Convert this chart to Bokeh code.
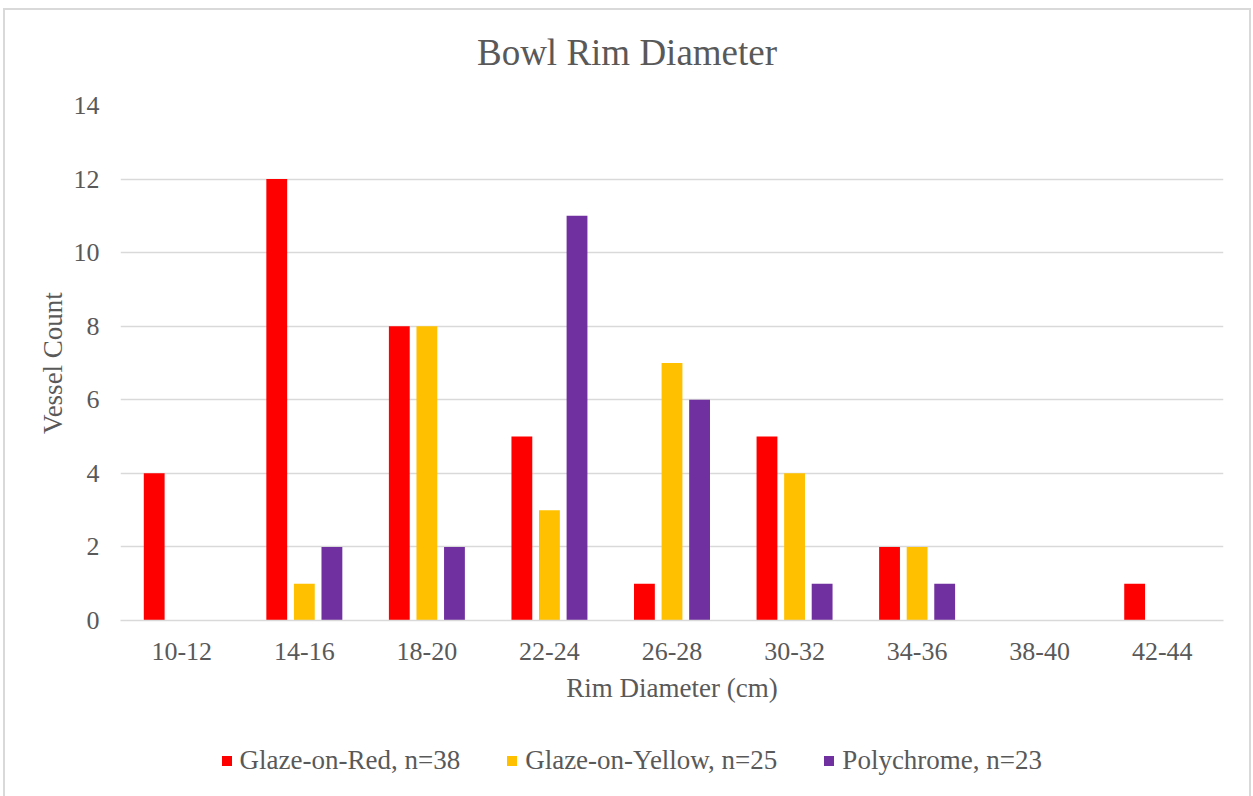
from bokeh.plotting import figure
from bokeh.layouts import column
from bokeh.models import (ColumnDataSource, FactorRange, FixedTicker, Label,
                          Legend, LegendItem, Range1d)
from bokeh.transform import dodge
from bokeh.embed import file_html
from bokeh.resources import INLINE

# Rim diameter classes (cm) and vessel counts per ware
categories = ["10-12", "14-16", "18-20", "22-24", "26-28", "30-32", "34-36", "38-40", "42-44"]
glaze_on_red = [4, 12, 8, 5, 1, 5, 2, 0, 1]
glaze_on_yellow = [0, 1, 8, 3, 7, 4, 2, 0, 0]
polychrome = [0, 2, 2, 11, 6, 1, 1, 0, 0]
series_labels = ["Glaze-on-Red, n=38", "Glaze-on-Yellow, n=25", "Polychrome, n=23"]
series_colors = ["#FF0000", "#FFC000", "#7030A0"]
y_ticks = [0, 2, 4, 6, 8, 10, 12, 14]
chart_title = "Bowl Rim Diameter"

FONT = "Liberation Serif"
TEXT_COLOR = "#595959"
GRID_COLOR = "#D9D9D9"
fields = ["red", "yellow", "poly"]

source = ColumnDataSource(dict(cat=categories, red=glaze_on_red,
                               yellow=glaze_on_yellow, poly=polychrome))


def strip(height, **kw):
    """A bare figure used as a band of text above or below the chart."""
    s = figure(width=1244, height=height, output_backend="svg", toolbar_location=None,
               x_axis_type=None, y_axis_type=None, min_border=0,
               x_range=Range1d(-3, -2), y_range=Range1d(-3, -2), **kw)
    s.outline_line_color = None
    s.background_fill_color = "white"
    s.border_fill_color = "white"
    return s


# title band
head = strip(70)
head.add_layout(Label(x=506.5, y=28.5, x_units="screen", y_units="screen",
                      text=chart_title, text_align="center",
                      text_baseline="middle", text_font=FONT,
                      text_font_size="37px", text_color=TEXT_COLOR))

# main bar chart
p = figure(width=1244, height=635, x_range=FactorRange(*categories, range_padding=0),
           y_range=(0, 14), output_backend="svg", toolbar_location=None,
           min_border_left=115, min_border_right=26, min_border_top=25,
           min_border_bottom=95)
p.outline_line_color = None
p.background_fill_color = "white"
p.border_fill_color = "white"

offsets = [-0.225, 0.0, 0.225]
for field, off, color in zip(fields, offsets, series_colors):
    p.vbar(x=dodge("cat", off, range=p.x_range), top=field, width=0.17,
           source=source, fill_color=color, line_color=None)

p.xgrid.grid_line_color = None
p.ygrid.grid_line_color = GRID_COLOR
p.ygrid.grid_line_width = 1.5
p.yaxis.ticker = FixedTicker(ticks=y_ticks)

for ax in (p.xaxis[0], p.yaxis[0]):
    ax.major_tick_line_color = None
    ax.minor_tick_line_color = None
    ax.major_label_text_font = FONT
    ax.major_label_text_font_size = "26px"
    ax.major_label_text_color = TEXT_COLOR
    ax.axis_label_text_font = FONT
    ax.axis_label_text_font_size = "27px"
    ax.axis_label_text_color = TEXT_COLOR
    ax.axis_label_text_font_style = "normal"

p.xaxis.axis_line_color = GRID_COLOR
p.xaxis.axis_line_width = 1.5
p.xaxis.major_label_standoff = 16
p.xaxis.axis_label = "Rim Diameter (cm)"
p.xaxis.axis_label_standoff = 10

p.yaxis.axis_line_color = None
p.yaxis.major_label_standoff = 15
p.yaxis.axis_label = "Vessel Count"
p.yaxis.axis_label_standoff = 3

# legend band; its key markers hold the series counts but sit outside the
# band's visible ranges, so only the legend swatches show
leg = strip(85)
proxies = []
for field, color in zip(fields, series_colors):
    proxies.append(leg.scatter(x=field, y=field, source=source, marker="square",
                               size=10, fill_color=color, line_color=None))

legend = Legend(items=[LegendItem(label=lab, renderers=[r])
                       for lab, r in zip(series_labels, proxies)],
                orientation="horizontal", location=(93.5, 24.5),
                glyph_width=25, glyph_height=31, label_standoff=1, spacing=39,
                padding=0, margin=0, border_line_color=None,
                background_fill_alpha=0, label_text_font=FONT,
                label_text_font_size="27px", label_text_color=TEXT_COLOR)
leg.add_layout(legend)

layout = column(head, p, leg, spacing=0)
layout.margin = (8, 2, 0, 3)
layout.styles = {"border": "2px solid #D9D9D9", "background-color": "white"}

open("out.html", "w").write(file_html(layout, INLINE))
